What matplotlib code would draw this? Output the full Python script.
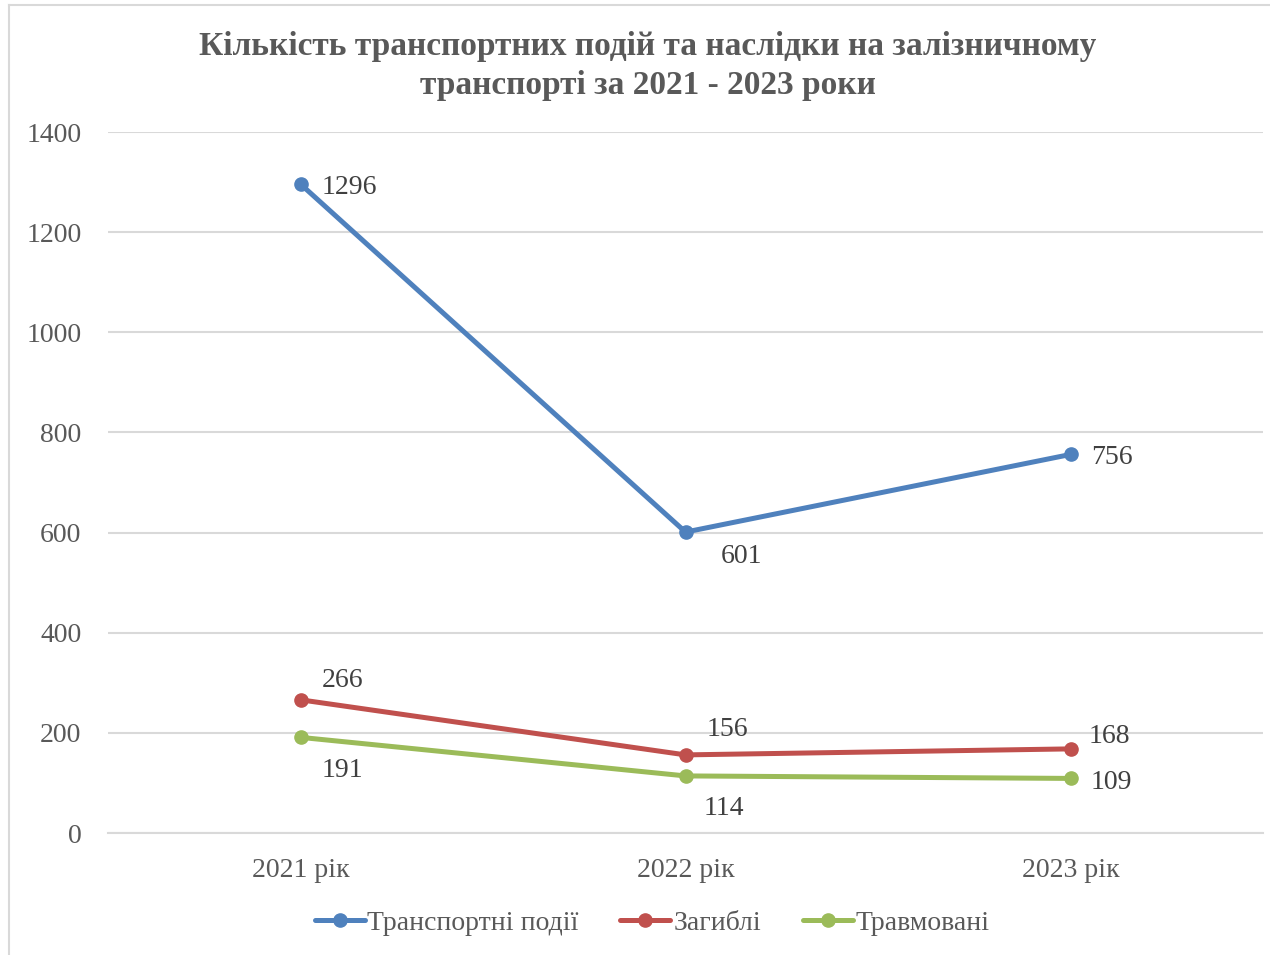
import matplotlib.pyplot as plt
from matplotlib.lines import Line2D

years = ['2021 рік', '2022 рік', '2023 рік']
incidents = [1296, 601, 756]
deaths = [266, 156, 168]
injured = [191, 114, 109]

series_names = ['Транспортні події', 'Загиблі', 'Травмовані']
colors = ['#4F81BD', '#C0504D', '#9BBB59']

# label offsets in pixels (dx, dy) for each point
offsets = [
    [(49, -3), (56, -24), (41, -3)],
    [(42, 19), (42, 25), (39, 12)],
    [(42, -33), (38, -33), (41, -4)],
]

plt.rcParams['font.family'] = ['Liberation Serif', 'DejaVu Serif']

fig = plt.figure(figsize=(12.7, 9.55), dpi=100)
ax = fig.add_axes([108 / 1270, 1 - 833 / 955, 1155 / 1270, 701 / 955])

x = [0.5, 1.5, 2.5]
for i, vals in enumerate([incidents, deaths, injured]):
    ax.plot(x, vals, color=colors[i], lw=3.6, marker='o', markersize=9.5,
            label=series_names[i], solid_capstyle='round', zorder=3)
    for j, v in enumerate(vals):
        dx, dy = offsets[i][j]
        ax.annotate(str(v), (x[j], v), xytext=(dx, dy), textcoords='offset pixels',
                    ha='center', va='center', fontsize=20, color='#404040')

ax.set_xlim(0, 3)
ax.set_ylim(0, 1400)
ax.set_yticks(range(0, 1401, 200))
ax.set_xticks(x)
ax.set_xticklabels(years)
ax.tick_params(length=0, labelsize=20, colors='#595959')
ax.tick_params(axis='x', pad=18)
ax.tick_params(axis='y', pad=19)
ax.grid(axis='y', color='#D9D9D9', lw=1.5)
ax.set_axisbelow(True)
for s in ['top', 'right', 'left']:
    ax.spines[s].set_visible(False)
ax.spines['bottom'].set_color('#D9D9D9')
ax.spines['bottom'].set_linewidth(1.5)

fig.text(0.51, 1 - 66 / 955,
         'Кількість транспортних подій та наслідки на залізничному\nтранспорті за 2021 - 2023 роки',
         ha='center', va='center', fontsize=24, fontweight='bold', color='#595959',
         linespacing=1.3)

ax.legend(loc='center', bbox_to_anchor=(652 / 1270, 1 - 923 / 955),
          bbox_transform=fig.transFigure, ncol=3, frameon=False, fontsize=20,
          labelcolor='#595959', handlelength=1.8, handletextpad=0.1, columnspacing=1.5)

# chart border
fig.add_artist(Line2D([9 / 1270, 1], [1 - 5 / 955, 1 - 5 / 955], color='#D9D9D9', lw=1.5))
fig.add_artist(Line2D([9 / 1270, 9 / 1270], [0, 1 - 5 / 955], color='#D9D9D9', lw=1.5))

fig.savefig('out.png', dpi=100)
